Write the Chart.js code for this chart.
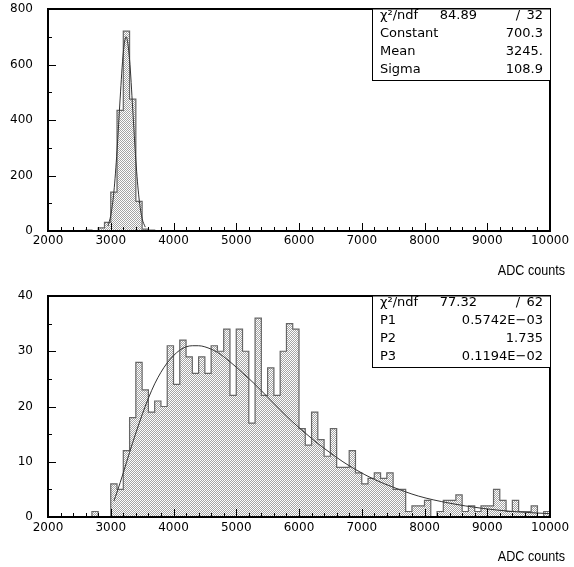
<!DOCTYPE html>
<html>
<head>
<meta charset="utf-8">
<script src="https://cdn.jsdelivr.net/npm/chart.js@4.4.1/dist/chart.umd.min.js"></script>
<style>
  body { margin: 0; background: #fff; }
  #wrap { position: relative; width: 574px; height: 567px; }
  canvas { position: absolute; left: 0; }
  #topCanvas { top: 0; }
  #bottomCanvas { top: 283px; }
</style>
</head>
<body>
<div id="wrap">
  <canvas id="topCanvas" width="574" height="283" style="width:574px;height:283px"></canvas>
  <canvas id="bottomCanvas" width="574" height="284" style="width:574px;height:284px"></canvas>
</div>
<script>
// histogram binning (ADC counts), 80 bins of 100 from 2000 to 10000
const binStart = 2000;
const binWidth = 100;
const xTicks = [2000, 3000, 4000, 5000, 6000, 7000, 8000, 9000, 10000];

// top histogram: counts per bin
const topCounts = [
  0, 0, 0, 0, 0, 0, 3, 0, 11, 31,
  140, 435, 720, 475, 107, 7, 3, 0, 0, 0,
  0, 0, 0, 0, 0, 0, 0, 0, 0, 0,
  0, 0, 0, 0, 0, 0, 0, 0, 0, 0,
  0, 0, 0, 0, 0, 0, 0, 0, 0, 0,
  0, 0, 0, 0, 0, 0, 0, 0, 0, 0,
  0, 0, 0, 0, 0, 0, 0, 0, 0, 0,
  0, 0, 0, 0, 0, 0, 0, 0, 0, 0
];
// gaussian fit curve
const topFitX = [2955, 3000, 3050, 3100, 3150, 3200, 3245, 3300, 3350, 3400, 3450, 3500, 3550];
const topFitY = [18, 56, 141, 289, 479, 643, 700, 617, 440, 254, 119, 45, 14];
const topStats = [
  ['\u03C7\u00B2/ndf', '84.89', '/', '32'],
  ['Constant', '', '', '700.3'],
  ['Mean', '', '', '3245.'],
  ['Sigma', '', '', '108.9']
];

// bottom histogram: counts per bin
const bottomCounts = [
  0, 0, 0, 0, 0, 0, 0, 1, 0, 0,
  6, 5, 12, 18, 28, 23, 19, 21, 20, 31,
  24, 32, 29, 26, 29, 26, 31, 30, 34, 22,
  34, 30, 17, 36, 22, 27, 22, 30, 35, 34,
  16, 13, 19, 14, 11, 16, 9, 9, 12, 8,
  6, 7, 8, 7, 8, 5, 5, 1, 2, 2,
  3, 0, 1, 3, 3, 4, 1, 2, 1, 2,
  2, 5, 3, 1, 3, 1, 1, 2, 0, 1
];
// fit curve
const bottomFitX = [3050, 3100, 3200, 3300, 3400, 3500, 3600, 3700, 3800, 3900, 4000, 4100, 4200, 4300, 4400, 4500,
  4700, 4900, 5100, 5300, 5500, 5700, 5900, 6100, 6300, 6500, 6700, 6900, 7200, 7500, 7900, 8400, 8900, 9400, 10000];
const bottomFitY = [2.9, 4.5, 8.0, 11.7, 15.2, 18.5, 21.5, 24.1, 26.2, 27.9, 29.2, 30.2, 30.8, 31.0, 31.0, 30.8,
  29.8, 28.1, 26.1, 24.0, 21.7, 19.4, 17.2, 15.2, 13.3, 11.6, 10.0, 8.6, 6.8, 5.4, 3.8, 2.5, 1.6, 1.0, 0.6];
const bottomStats = [
  ['\u03C7\u00B2/ndf', '77.32', '/', '62'],
  ['P1', '', '', '0.5742E\u221203'],
  ['P2', '', '', '1.735'],
  ['P3', '', '', '0.1194E\u221202']
];

const FONT = 'DejaVu Sans';

function histPoints(counts) {
  const pts = counts.map((c, i) => ({ x: binStart + i * binWidth, y: c }));
  pts.push({ x: binStart + counts.length * binWidth, y: counts[counts.length - 1] });
  return pts;
}

// fine stipple fill like the PAW hatch
function stipple(ctx) {
  const c = document.createElement('canvas');
  c.width = 2; c.height = 2;
  const g = c.getContext('2d');
  g.fillStyle = '#fff';
  g.fillRect(0, 0, 2, 2);
  g.fillStyle = '#a4a4a4';
  g.fillRect(0, 0, 1, 1);
  g.fillRect(1, 1, 1, 1);
  return ctx.createPattern(c, 'repeat');
}

// frame, inward ticks, stat box and axis label
const paw = {
  id: 'paw',
  afterDraw(chart, args, o) {
    const { ctx, chartArea: a, scales: { x, y } } = chart;
    ctx.save();
    ctx.strokeStyle = '#000';
    ctx.lineWidth = 1;
    for (let v = x.min; v <= x.max; v += o.xMinor) {
      const px = Math.round(x.getPixelForValue(v)) + 0.5;
      const len = v % o.xMajor === 0 ? 8 : 4;
      ctx.beginPath();
      ctx.moveTo(px, a.bottom);
      ctx.lineTo(px, a.bottom - len);
      ctx.stroke();
    }
    for (let v = y.min; v <= y.max; v += o.yMinor) {
      const py = Math.round(y.getPixelForValue(v)) + 0.5;
      const len = v % o.yMajor === 0 ? 8 : 4;
      ctx.beginPath();
      ctx.moveTo(a.left, py);
      ctx.lineTo(a.left + len, py);
      ctx.stroke();
    }
    ctx.lineWidth = 2;
    ctx.strokeRect(a.left, a.top, a.right - a.left, a.bottom - a.top);

    // stat box
    const bx = a.right - 178, by = a.top, bh = 71;
    ctx.fillStyle = '#fff';
    ctx.fillRect(bx, by, a.right - bx, bh);
    ctx.lineWidth = 1;
    ctx.strokeRect(bx + 0.5, by, a.right - bx, bh + 0.5);
    ctx.fillStyle = '#000';
    ctx.font = '13px "' + FONT + '"';
    ctx.textBaseline = 'middle';
    o.stats.forEach((row, r) => {
      const ty = by + 7 + 17.8 * r;
      ctx.textAlign = 'left';
      ctx.fillText(row[0], bx + 8, ty);
      ctx.textAlign = 'right';
      if (row[1]) ctx.fillText(row[1], bx + 105, ty);
      ctx.textAlign = 'center';
      if (row[2]) ctx.fillText(row[2], bx + 146, ty);
      ctx.textAlign = 'right';
      ctx.fillText(row[3], a.right - 7, ty);
    });

    // axis label
    ctx.save();
    ctx.translate(a.right + 15, a.bottom + 40);
    ctx.scale(0.84, 1);
    ctx.font = '15px "Liberation Sans"';
    ctx.textAlign = 'right';
    ctx.fillText('ADC counts', 0, 0);
    ctx.restore();
    ctx.restore();
  }
};

function makeChart(id, counts, fitX, fitY, yMax, yStep, stats, padTop, axisH, tickPad) {
  const canvas = document.getElementById(id);
  const ctx = canvas.getContext('2d');
  return new Chart(ctx, {
    type: 'line',
    data: {
      datasets: [
        {
          label: 'fit',
          data: fitX.map((v, i) => ({ x: v, y: fitY[i] })),
          borderColor: '#333',
          borderWidth: 1,
          pointRadius: 0,
          fill: false,
          cubicInterpolationMode: 'monotone'
        },
        {
          label: 'histogram',
          data: histPoints(counts),
          stepped: 'before',
          borderColor: '#666',
          borderWidth: 1.2,
          pointRadius: 0,
          backgroundColor: stipple(ctx),
          fill: 'origin'
        }
      ]
    },
    options: {
      responsive: false,
      animation: false,
      layout: { padding: { top: padTop, right: 24, left: 0, bottom: 0 } },
      plugins: {
        legend: { display: false },
        tooltip: { enabled: false },
        paw: { xMajor: 1000, xMinor: 200, yMajor: yStep, yMinor: yStep / 2, stats: stats }
      },
      scales: {
        x: {
          type: 'linear',
          min: 2000,
          max: 10000,
          grid: { display: false, drawTicks: false },
          border: { display: false },
          afterBuildTicks: s => { s.ticks = xTicks.map(v => ({ value: v })); },
          ticks: {
            autoSkip: false, maxRotation: 0, padding: tickPad, color: '#000',
            font: { family: FONT, size: 12 },
            callback: v => String(v)
          },
          afterFit: s => { s.height = axisH; s.paddingLeft = 0; s.paddingRight = 0; }
        },
        y: {
          min: 0,
          max: yMax,
          grid: { display: false, drawTicks: false },
          border: { display: false },
          ticks: { stepSize: yStep, padding: 15, color: '#000', font: { family: FONT, size: 12 } },
          afterFit: s => { s.width = 48; s.paddingTop = 0; s.paddingBottom = 0; }
        }
      }
    },
    plugins: [paw]
  });
}

makeChart('topCanvas', topCounts, topFitX, topFitY, 800, 200, topStats, 9, 52, 3);
makeChart('bottomCanvas', bottomCounts, bottomFitX, bottomFitY, 40, 10, bottomStats, 13, 50, 4);
</script>
</body>
</html>
